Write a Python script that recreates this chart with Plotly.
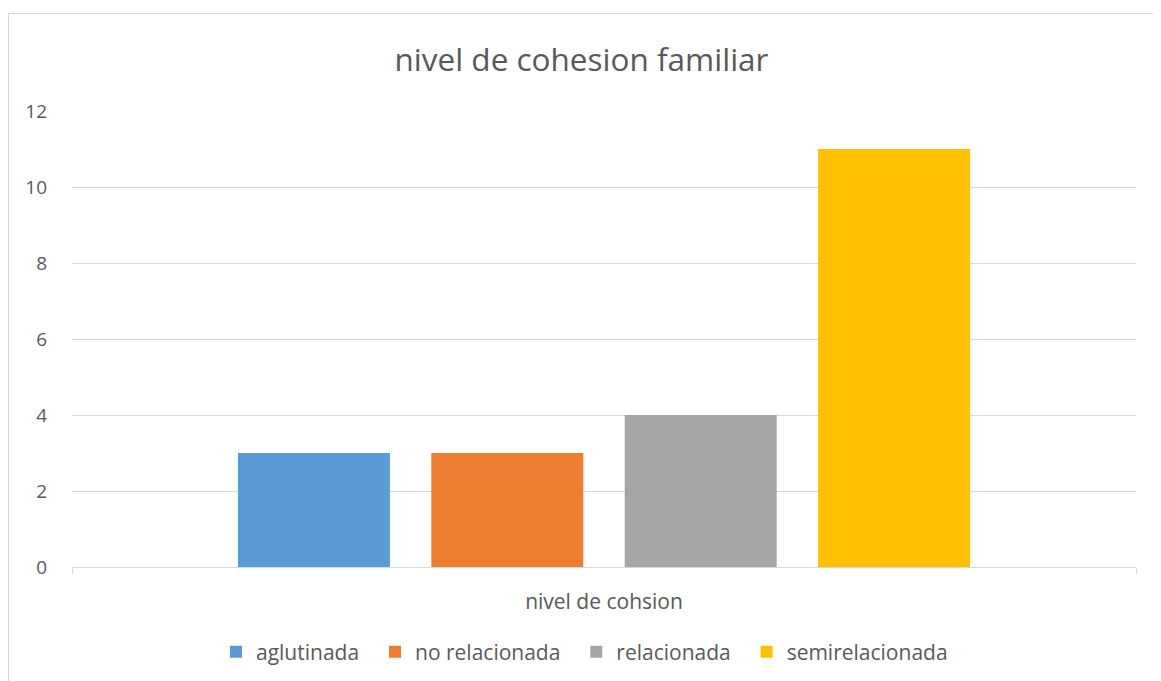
import plotly.graph_objects as go

category = ["nivel de cohsion"]
series_names = ["aglutinada", "no relacionada", "relacionada", "semirelacionada"]
series_values = [3, 3, 4, 11]
series_colors = ["#5B9BD5", "#ED7D31", "#A5A5A5", "#FFC000"]
y_ticks = [0, 2, 4, 6, 8, 10, 12]

# page body has an 8px margin, so the figure is placed at (8, 8)
W, H = 1153, 673
ML, MR, MT, MB = 64, 25, 103, 114
FONT = "Open Sans"
LEGEND_PAD = "\u00a0\u00a0"  # widens the gap between legend entries

fig = go.Figure()
for name, val, col in zip(series_names, series_values, series_colors):
    fig.add_trace(go.Bar(x=category, y=[val], name=name + LEGEND_PAD,
                         marker=dict(color=col, line=dict(width=0))))

pw = W - ML - MR
ph = H - MT - MB
def px_to_paper_x(p):
    return (p - ML) / pw
def px_to_paper_y(p):
    return (H - MB - p) / ph

fig.update_layout(
    width=W, height=H,
    margin=dict(l=ML, r=MR, t=MT, b=MB, autoexpand=False),
    paper_bgcolor="white", plot_bgcolor="white",
    barmode="group", bargap=0.273, bargroupgap=0.214,
    font=dict(family=FONT, color="#595959", size=21),
    title=dict(text="nivel de cohesion familiar", x=573.5 / W, xanchor="center",
               y=1 - 52 / H, yanchor="middle",
               font=dict(family=FONT, size=31.5, color="#595959")),
    xaxis=dict(showgrid=False, showline=True, linecolor="#D9D9D9", linewidth=1,
               ticks="outside", tickson="boundaries", ticklen=6, tickcolor="#D9D9D9",
               tickfont=dict(size=21, color="#595959"), ticklabelstandoff=16),
    yaxis=dict(range=[0, 12], tickvals=y_ticks, showgrid=True, gridcolor="#D9D9D9",
               gridwidth=1, zeroline=False, showline=False, ticks="",
               tickfont=dict(size=19, color="#595959"), ticklabelstandoff=24),
    legend=dict(orientation="h", x=px_to_paper_x(582), xanchor="center",
                y=px_to_paper_y(644), yanchor="middle",
                font=dict(size=21, color="#595959"), itemwidth=30, traceorder="normal"),
    shapes=[dict(type="rect", xref="paper", yref="paper",
                 x0=px_to_paper_x(0.5), x1=px_to_paper_x(1175),
                 y0=px_to_paper_y(700), y1=px_to_paper_y(5.5),
                 line=dict(color="#D9D9D9", width=1), fillcolor="rgba(0,0,0,0)", layer="below")],
)

fig.write_html("out.html")
